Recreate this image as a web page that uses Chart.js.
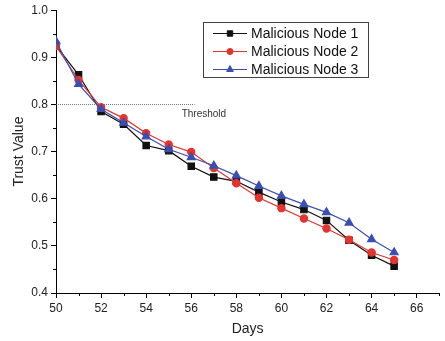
<!DOCTYPE html>
<html>
<head>
<meta charset="utf-8">
<script src="https://cdn.jsdelivr.net/npm/chart.js@4"></script>
<style>
  html, body { margin: 0; padding: 0; background: #fff; }
  #wrap { width: 445px; height: 341px; }
</style>
</head>
<body>
<div id="wrap"><canvas id="myChart" width="445" height="341"></canvas></div>
<script>
// values
const days = [50, 51, 52, 53, 54, 55, 56, 57, 58, 59, 60, 61, 62, 63, 64, 65];
const node1 = [0.925, 0.863, 0.785, 0.758, 0.713, 0.702, 0.669, 0.646, 0.637, 0.614, 0.593, 0.577, 0.554, 0.512, 0.480, 0.457];
const node2 = [0.924, 0.852, 0.794, 0.771, 0.739, 0.715, 0.699, 0.665, 0.633, 0.602, 0.580, 0.558, 0.537, 0.513, 0.486, 0.470];
const node3 = [0.934, 0.843, 0.790, 0.761, 0.732, 0.705, 0.688, 0.670, 0.649, 0.627, 0.606, 0.588, 0.571, 0.549, 0.514, 0.486];
const seriesNames = ["Malicious Node 1", "Malicious Node 2", "Malicious Node 3"];
const thresholdValue = 0.8;
const thresholdDays = [50, 56.15];
const thresholdText = "Threshold";
const yTicks = [0.4, 0.5, 0.6, 0.7, 0.8, 0.9, 1.0];
const xTicks = [50, 52, 54, 56, 58, 60, 62, 64, 66];

const FONT = "'Liberation Sans', Arial, sans-serif";
Chart.defaults.font.family = FONT;
Chart.defaults.color = "#222";

const toPoints = (vals) => vals.map((v, i) => ({ x: days[i], y: v }));

// minor ticks, threshold label and the boxed legend
const extras = {
  id: "extras",
  afterDraw(chart) {
    const ctx = chart.ctx;
    const xs = chart.scales.x, ys = chart.scales.y;
    const area = chart.chartArea;
    ctx.save();
    ctx.strokeStyle = "#000";
    ctx.lineWidth = 1;
    ctx.beginPath();
    for (let d = 51; d <= 67; d += 2) {
      const px = Math.round(xs.getPixelForValue(d)) + 0.5;
      ctx.moveTo(px, area.bottom);
      ctx.lineTo(px, area.bottom + 3);
    }
    for (let v = 0.45; v < 1.0; v += 0.1) {
      const py = Math.round(ys.getPixelForValue(v)) + 0.5;
      ctx.moveTo(area.left - 3, py);
      ctx.lineTo(area.left, py);
    }
    ctx.stroke();

    // threshold label
    ctx.fillStyle = "#333";
    ctx.font = "10px " + FONT;
    ctx.textBaseline = "middle";
    ctx.textAlign = "left";
    ctx.fillText(thresholdText, xs.getPixelForValue(thresholdDays[1]) - 13, ys.getPixelForValue(thresholdValue) + 10);

    // legend
    const bx = 203, by = 22, bw = 165, bh = 55;
    ctx.strokeStyle = "#444";
    ctx.lineWidth = 1;
    ctx.strokeRect(bx + 0.5, by + 0.5, bw, bh);
    ctx.font = "14px " + FONT;
    chart.data.datasets.slice(0, 3).forEach((ds, i) => {
      const cy = by + 11.5 + i * 18;
      ctx.strokeStyle = ds.borderColor;
      ctx.lineWidth = 1.2;
      ctx.beginPath();
      ctx.moveTo(bx + 10, cy);
      ctx.lineTo(bx + 44, cy);
      ctx.stroke();
      ctx.fillStyle = ds.borderColor;
      ctx.lineWidth = 1;
      Chart.helpers.drawPoint(ctx, {
        pointStyle: ds.pointStyle, radius: ds.pointRadius * 0.85, borderWidth: 1
      }, bx + 27, cy);
      ctx.fillStyle = "#111";
      ctx.fillText(ds.label, bx + 48, cy + 1);
    });
    ctx.restore();
  }
};

const ctx = document.getElementById("myChart");
new Chart(ctx, {
  type: "line",
  data: {
    datasets: [
      {
        label: seriesNames[0], data: toPoints(node1),
        borderColor: "#111", backgroundColor: "#111",
        pointBorderColor: "#111", pointBackgroundColor: "#111",
        pointStyle: "rect", pointRadius: 4.5, borderWidth: 1.2, order: 3
      },
      {
        label: seriesNames[1], data: toPoints(node2),
        borderColor: "#e3342f", backgroundColor: "#e3342f",
        pointBorderColor: "#e3342f", pointBackgroundColor: "#e3342f",
        pointStyle: "circle", pointRadius: 3.6, borderWidth: 1.2, order: 2
      },
      {
        label: seriesNames[2], data: toPoints(node3),
        borderColor: "#3a4fb2", backgroundColor: "#3a4fb2",
        pointBorderColor: "#3a4fb2", pointBackgroundColor: "#3a4fb2",
        pointStyle: "triangle", pointRadius: 4.6, borderWidth: 1.2, order: 1
      },
      {
        label: thresholdText,
        data: thresholdDays.map((d) => ({ x: d, y: thresholdValue })),
        borderColor: "#555", borderWidth: 0.8, borderDash: [1, 1],
        pointRadius: 0, order: 4
      }
    ]
  },
  options: {
    responsive: false,
    animation: false,
    events: [],
    layout: { padding: { left: 0, right: 4, top: 9, bottom: 0 } },
    plugins: { legend: { display: false }, tooltip: { enabled: false } },
    scales: {
      x: {
        type: "linear", min: 50, max: 67,
        afterFit: (s) => { s.height = 48; },
        afterBuildTicks: (s) => { s.ticks = xTicks.map((v) => ({ value: v })); },
        grid: { drawOnChartArea: false, tickLength: 5, tickColor: "#000" },
        border: { color: "#000", width: 1 },
        ticks: { font: { size: 12 }, color: "#222", padding: 3, maxRotation: 0 },
        title: { display: true, text: "Days", font: { size: 14 }, color: "#222", padding: { top: 0, bottom: 3 } }
      },
      y: {
        min: 0.4, max: 1.0,
        afterFit: (s) => { s.width = 56; },
        afterBuildTicks: (s) => { s.ticks = yTicks.map((v) => ({ value: v })); },
        grid: { drawOnChartArea: false, tickLength: 5, tickColor: "#000" },
        border: { color: "#000", width: 1 },
        ticks: { font: { size: 12 }, color: "#222", padding: 3, callback: (v) => v.toFixed(1) },
        title: { display: true, text: "Trust Value", font: { size: 14 }, color: "#222", padding: { top: 11, bottom: 0 } }
      }
    }
  },
  plugins: [extras]
});
</script>
</body>
</html>
